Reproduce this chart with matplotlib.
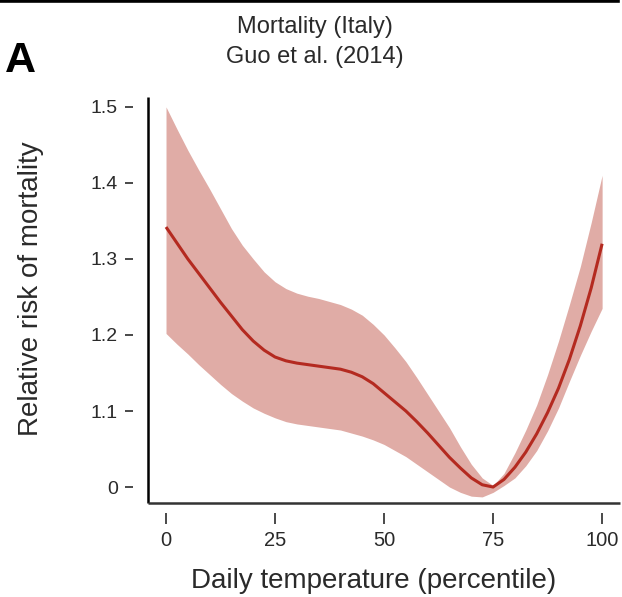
import matplotlib
matplotlib.use("Agg")
import matplotlib.pyplot as plt
from matplotlib.lines import Line2D

# Relative risk of mortality vs. daily temperature percentile (Italy)
pct = [0, 2.5, 5, 7.5, 10, 12.5, 15, 17.5, 20, 22.5, 25, 27.5, 30, 32.5, 35,
       37.5, 40, 42.5, 45, 47.5, 50, 52.5, 55, 57.5, 60, 62.5, 65, 67.5, 70,
       72.5, 75, 77.5, 80, 82.5, 85, 87.5, 90, 92.5, 95, 97.5, 100]
rr = [1.342, 1.321, 1.300, 1.281, 1.262, 1.243, 1.225, 1.207, 1.192, 1.180,
      1.171, 1.166, 1.163, 1.161, 1.159, 1.157, 1.155, 1.151, 1.145, 1.136,
      1.124, 1.112, 1.100, 1.086, 1.071, 1.055, 1.039, 1.025, 1.012, 1.003,
      1.000, 1.010, 1.026, 1.046, 1.070, 1.098, 1.130, 1.168, 1.212, 1.262,
      1.320]
rr_hi = [1.500, 1.471, 1.443, 1.417, 1.392, 1.366, 1.340, 1.318, 1.300, 1.283,
         1.270, 1.261, 1.255, 1.251, 1.248, 1.244, 1.240, 1.234, 1.226, 1.214,
         1.200, 1.183, 1.165, 1.144, 1.122, 1.100, 1.078, 1.053, 1.030, 1.012,
         1.002, 1.018, 1.045, 1.075, 1.108, 1.148, 1.192, 1.240, 1.290, 1.348,
         1.410]
rr_lo = [1.202, 1.188, 1.175, 1.161, 1.148, 1.135, 1.123, 1.113, 1.104, 1.097,
         1.091, 1.086, 1.083, 1.081, 1.079, 1.077, 1.075, 1.071, 1.067, 1.062,
         1.056, 1.048, 1.040, 1.030, 1.020, 1.010, 1.000, 0.993, 0.988, 0.987,
         0.993, 1.002, 1.012, 1.028, 1.048, 1.074, 1.104, 1.139, 1.173, 1.205,
         1.235]

x_ticks = [0, 25, 50, 75, 100]
x_tick_labels = ["0", "25", "50", "75", "100"]
y_ticks = [1.0, 1.1, 1.2, 1.3, 1.4, 1.5]
y_tick_labels = ["0", "1.1", "1.2", "1.3", "1.4", "1.5"]

plt.rcParams["font.family"] = ["Liberation Sans", "DejaVu Sans"]
text_color = "#2a2a2a"

W, H = 622, 597
fig = plt.figure(figsize=(W / 100, H / 100), dpi=100)
ax = fig.add_axes([148 / W, 1 - 503 / H, (620 - 148) / W, (503 - 97) / H])

ax.fill_between(pct, rr_lo, rr_hi, color="#e0aca6", lw=0)
ax.plot(pct, rr, color="#b42a20", lw=2.2, solid_capstyle="butt",
        solid_joinstyle="round")

# detached ticks: axes are offset outward, visible spines drawn separately
for side in ("top", "right"):
    ax.spines[side].set_visible(False)
ax.spines["left"].set_position(("outward", 11))
ax.spines["bottom"].set_position(("outward", 7))
ax.spines["left"].set_visible(False)
ax.spines["bottom"].set_visible(False)

ax.plot([0, 0], [0, 1], transform=ax.transAxes, color="black", lw=1.8,
        clip_on=False, solid_capstyle="butt")
ax.plot([0, 1], [0, 0], transform=ax.transAxes, color="#333333", lw=1.8,
        clip_on=False, solid_capstyle="butt")

ax.set_xticks(x_ticks)
ax.set_xticklabels(x_tick_labels)
ax.set_yticks(y_ticks)
ax.set_yticklabels(y_tick_labels)
ax.tick_params(axis="x", length=7.9, width=1.2, pad=5.4, labelsize=14.5,
               color=text_color, labelcolor=text_color)
ax.tick_params(axis="y", length=5.8, width=1.2, pad=5, labelsize=14,
               color=text_color, labelcolor=text_color)

ax.set_xlim(-4.13, 104.1)
ax.set_ylim(0.979, 1.513)

fig.text(31 / W, 1 - 288.5 / H, "Relative risk of mortality", rotation=90,
         ha="center", va="center", fontsize=20, color=text_color)
fig.text(374 / W, 1 - 588 / H, "Daily temperature (percentile)",
         ha="center", va="baseline", fontsize=20, color=text_color)

fig.text(315 / W, 1 - 33 / H, "Mortality (Italy)", ha="center", va="baseline",
         fontsize=17, color=text_color)
fig.text(315 / W, 1 - 63 / H, "Guo et al. (2014)", ha="center", va="baseline",
         fontsize=17, color=text_color)

fig.text(5 / W, 1 - 72 / H, "A", ha="left", va="baseline", fontsize=31,
         fontweight="bold", color="black")

fig.add_artist(Line2D([0, 618 / W], [1 - 1.3 / H, 1 - 1.3 / H],
                      color="black", lw=2.6))

fig.savefig("out.png", dpi=100)
